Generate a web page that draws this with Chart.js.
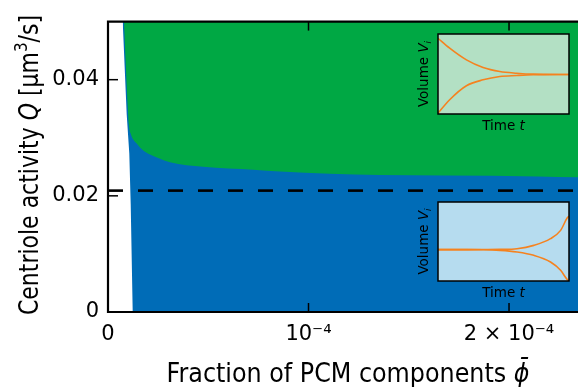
<!DOCTYPE html>
<html>
<head>
<meta charset="utf-8">
<script src="https://cdn.jsdelivr.net/npm/chart.js@4.4.1/dist/chart.umd.min.js"></script>
<style>
  body { margin: 0; background: #fff; }
  #wrap { position: relative; width: 578px; height: 387px; }
  canvas { position: absolute; }
</style>
</head>
<body>
<div id="wrap">
  <canvas id="main" width="578" height="387" style="left:0;top:0"></canvas>
  <canvas id="insetTop" width="170" height="110" style="left:405px;top:28px"></canvas>
  <canvas id="insetBottom" width="170" height="110" style="left:405px;top:196px"></canvas>
</div>
<script>
const FONT = "DejaVu Sans";

// axes
const xMax = 2.344e-4;
const yMax = 0.05;
const xTicks = [0, 1e-4, 2e-4];
const xTickLabels = ["0", "10\u207B\u2074", "2 \u00D7 10\u207B\u2074"];
const yTicks = [0, 0.02, 0.04];
const yTickLabels = ["0", "0.02", "0.04"];

// left edge of the coloured region (white to its left), then along Q = 0
const edgePhi = [7.33e-6, 9.33e-6, 1.062e-5, 1.132e-5, 1.232e-5, 2.344e-4];
const edgeQ = [0.05, 0.034, 0.0273, 0.0186, 0, 0];

// boundary between blue (below) and green (above)
const boundPhi = [8.0e-6, 8.9e-6, 9.8e-6, 1.04e-5, 1.14e-5, 1.431e-5, 1.761e-5, 2.095e-5, 2.594e-5,
                  3.09e-5, 4.75e-5, 7.25e-5, 8.58e-5, 1.107e-4, 1.357e-4, 1.686e-4, 2.145e-4, 2.344e-4];
const boundQ = [0.05, 0.0424, 0.0357, 0.0323, 0.0306, 0.029, 0.0278, 0.0271, 0.0264,
                0.0258, 0.0250, 0.0245, 0.0242, 0.0238, 0.0236, 0.0235, 0.02335, 0.0232];

const thresholdQ = 0.0209;

// insets (normalised time / volume)
const topT = [0, 0.089, 0.217, 0.344, 0.472, 0.6, 0.727, 1];
const topUpper = [0.946, 0.822, 0.676, 0.581, 0.531, 0.51, 0.498, 0.494];
const topLower = [0.01, 0.178, 0.353, 0.427, 0.469, 0.481, 0.49, 0.494];

const botT = [0, 0.218, 0.346, 0.474, 0.603, 0.731, 0.859, 0.936, 0.987, 1];
const botUpper = [0.397, 0.397, 0.398, 0.4, 0.409, 0.451, 0.536, 0.641, 0.8, 0.82];
const botLower = [0.397, 0.397, 0.396, 0.388, 0.367, 0.325, 0.24, 0.135, 0.017, 0];

const GREEN = "#00a844";
const BLUE = "#006cb7";
const ORANGE = "#f5821f";

const pts = (xs, ys) => xs.map((x, i) => ({ x: x, y: ys[i] }));

// draws a run of text pieces (italic / superscript / subscript) on one baseline
function drawRich(ctx, parts, x, y, size, fitWidth) {
  const fontOf = p => (p.italic ? "italic " : "") + ((p.sup || p.sub) ? Math.round(size * 0.7) : size) + "px " + FONT;
  let w = 0;
  parts.forEach(p => { ctx.font = fontOf(p); p.w = ctx.measureText(p.text).width; w += p.w; });
  const k = fitWidth ? fitWidth / w : 1;
  ctx.save();
  ctx.translate(x, y);
  ctx.scale(k, 1);
  ctx.textAlign = "left";
  ctx.textBaseline = "alphabetic";
  ctx.fillStyle = "#000";
  let cx = -w / 2;
  parts.forEach(p => {
    ctx.font = fontOf(p);
    ctx.fillText(p.text, cx, p.sup ? -size * 0.42 : p.sub ? size * 0.22 : 0);
    cx += p.w;
  });
  ctx.restore();
}

const frame = {
  id: "frame",
  afterDatasetsDraw(chart) {
    const { ctx, chartArea: a, scales } = chart;
    const seg = (x1, y1, x2, y2) => { ctx.beginPath(); ctx.moveTo(x1, y1); ctx.lineTo(x2, y2); ctx.stroke(); };
    ctx.save();
    ctx.strokeStyle = "#000";
    ctx.lineWidth = 1.5;
    xTicks.forEach(v => {
      const px = scales.x.getPixelForValue(v);
      seg(px, a.bottom, px, a.bottom - 9);
      seg(px, a.top, px, a.top + 9);
    });
    yTicks.forEach(v => {
      const py = scales.y.getPixelForValue(v);
      seg(a.left, py, a.left + 10, py);
    });
    ctx.lineWidth = 2.2;
    ctx.beginPath();
    ctx.moveTo(a.right + 2, a.top);
    ctx.lineTo(a.left, a.top);
    ctx.lineTo(a.left, a.bottom);
    ctx.lineTo(a.right + 2, a.bottom);
    ctx.stroke();
    ctx.restore();

    // axis titles
    drawRich(ctx, [
      { text: "Fraction of PCM components " },
      { text: "\u03D5\u0304", italic: true }
    ], 348, 382, 26, 363);

    ctx.save();
    ctx.translate(38, 165);
    ctx.rotate(-Math.PI / 2);
    drawRich(ctx, [
      { text: "Centriole activity " },
      { text: "Q", italic: true },
      { text: " [\u03BCm" },
      { text: "3", sup: true },
      { text: "/s]" }
    ], 0, 0, 26, 300);
    ctx.restore();
  }
};

new Chart(document.getElementById("main"), {
  type: "line",
  data: {
    datasets: [
      { data: pts([0, xMax], [thresholdQ, thresholdQ]), borderColor: "#000", borderWidth: 2.6,
        borderDash: [15, 15], pointRadius: 0, fill: false, order: 1 },
      { data: pts(boundPhi, boundQ), borderWidth: 0, pointRadius: 0, backgroundColor: GREEN,
        fill: "end", cubicInterpolationMode: "monotone", order: 2 },
      { data: pts(edgePhi, edgeQ), borderWidth: 0, pointRadius: 0, backgroundColor: BLUE,
        fill: "end", order: 3 }
    ]
  },
  options: {
    responsive: false,
    animation: false,
    events: [],
    layout: { padding: { top: 15, right: 0, left: 0, bottom: 0 } },
    plugins: { legend: { display: false }, tooltip: { enabled: false } },
    scales: {
      x: {
        type: "linear", min: 0, max: xMax,
        grid: { display: false, drawTicks: false }, border: { display: false },
        afterFit: s => { s.height = 75; },
        afterBuildTicks: s => { s.ticks = xTicks.map(v => ({ value: v })); },
        ticks: { autoSkip: false, maxRotation: 0, padding: 10, color: "#000",
                 font: { family: FONT, size: 21 }, callback: (v, i) => xTickLabels[i] }
      },
      y: {
        type: "linear", min: 0, max: yMax,
        grid: { display: false, drawTicks: false }, border: { display: false },
        afterFit: s => { s.width = 108; },
        afterBuildTicks: s => { s.ticks = yTicks.map(v => ({ value: v })); },
        ticks: { autoSkip: false, padding: 9, color: "#000",
                 font: { family: FONT, size: 21 }, callback: (v, i) => yTickLabels[i] }
      }
    }
  },
  plugins: [frame]
});

function makeInset(id, t, upper, lower, bg) {
  const insetFrame = {
    id: "insetFrame",
    beforeDatasetsDraw(chart) {
      const { ctx, chartArea: a } = chart;
      ctx.save();
      ctx.fillStyle = bg;
      ctx.fillRect(a.left, a.top, a.right - a.left, a.bottom - a.top);
      ctx.restore();
    },
    afterDraw(chart) {
      const { ctx, chartArea: a } = chart;
      ctx.save();
      ctx.strokeStyle = "#000";
      ctx.lineWidth = 1.5;
      ctx.strokeRect(a.left, a.top, a.right - a.left, a.bottom - a.top);
      ctx.restore();
      drawRich(ctx, [{ text: "Time " }, { text: "t", italic: true }], (a.left + a.right) / 2, a.bottom + 16, 13.5);
      ctx.save();
      ctx.translate(a.left - 10, (a.top + a.bottom) / 2);
      ctx.rotate(-Math.PI / 2);
      drawRich(ctx, [{ text: "Volume " }, { text: "V", italic: true }, { text: "i", italic: true, sub: true }], 0, 0, 13.5);
      ctx.restore();
    }
  };
  const line = d => ({ data: d, borderColor: ORANGE, borderWidth: 1.6, pointRadius: 0,
                       fill: false, cubicInterpolationMode: "monotone" });
  new Chart(document.getElementById(id), {
    type: "line",
    data: { datasets: [line(pts(t, upper)), line(pts(t, lower))] },
    options: {
      responsive: false,
      animation: false,
      events: [],
      layout: { padding: { left: 33, top: 6, right: 6, bottom: id === "insetTop" ? 24 : 25 } },
      plugins: { legend: { display: false }, tooltip: { enabled: false } },
      scales: {
        x: { type: "linear", min: 0, max: 1, display: false },
        y: { type: "linear", min: 0, max: 1, display: false }
      }
    },
    plugins: [insetFrame]
  });
}

makeInset("insetTop", topT, topUpper, topLower, "#b3e0c4");
makeInset("insetBottom", botT, botUpper, botLower, "#b6dcef");
</script>
</body>
</html>
